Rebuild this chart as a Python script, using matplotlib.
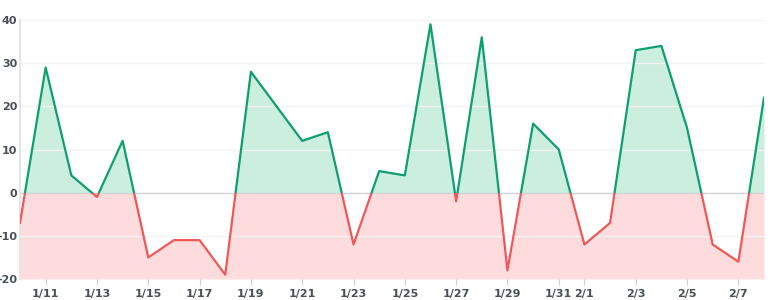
import matplotlib
matplotlib.use("Agg")
import matplotlib.pyplot as plt
from matplotlib.patches import Rectangle
import numpy as np

plt.rcParams['axes.unicode_minus'] = False

# daily values, 1/10 .. 2/8
dates = ['1/10', '1/11', '1/12', '1/13', '1/14', '1/15', '1/16', '1/17', '1/18', '1/19',
         '1/20', '1/21', '1/22', '1/23', '1/24', '1/25', '1/26', '1/27', '1/28', '1/29',
         '1/30', '1/31', '2/1', '2/2', '2/3', '2/4', '2/5', '2/6', '2/7', '2/8']
values = [-7, 29, 4, -1, 12, -15, -11, -11, -19, 28,
          20, 12, 14, -12, 5, 4, 39, -2, 36, -18,
          16, 10, -12, -7, 33, 34, 15, -12, -16, 22]
tick_labels = ['1/11', '1/13', '1/15', '1/17', '1/19', '1/21', '1/23', '1/25',
               '1/27', '1/29', '1/31', '2/1', '2/3', '2/5', '2/7']
y_ticks = [-20, -10, 0, 10, 20, 30, 40]

GREEN = '#0e9f6e'
GREEN_FILL = '#cbeedf'
RED = '#f25757'
RED_FILL = '#fedcdd'

x = np.arange(len(values))
y = np.array(values)
ymin, ymax = y_ticks[0], y_ticks[-1]

fig = plt.figure(figsize=(7.84, 3.0), dpi=100)
ax = fig.add_axes([20 / 784, 21 / 300, 744 / 784, 259 / 300])

for yt in y_ticks:
    ax.axhline(yt, color='#d4d4d4' if yt == 0 else '#f3f3f3', lw=1, zorder=1)

# split everything at zero: green above, red below
parts = [(0, ymax - 0, GREEN, GREEN_FILL), (ymin, 0 - ymin, RED, RED_FILL)]
for y0, h, lc, fc in parts:
    fill = ax.fill_between(x, y, ymin, color=fc, lw=0, zorder=0)
    line, = ax.plot(x, y, color=lc, lw=1.6, zorder=3)
    clip = Rectangle((x[0], y0), x[-1] - x[0], h, transform=ax.transData)
    fill.set_clip_path(clip)
    line.set_clip_path(clip)

ax.set_xlim(x[0], x[-1])
ax.set_ylim(ymin, ymax)
ax.set_xticks([dates.index(d) for d in tick_labels])
ax.set_xticklabels(tick_labels)
ax.set_yticks(y_ticks)

for s in ['top', 'right', 'bottom']:
    ax.spines[s].set_visible(False)
ax.spines['left'].set_color('#e2e5ea')
ax.spines['left'].set_linewidth(1.5)

ax.tick_params(axis='x', length=4, color='#d0d0d0', pad=3, labelsize=8, labelcolor='#4a4f57')
ax.tick_params(axis='y', length=0, pad=2, labelsize=8, labelcolor='#4a4f57')
for lbl in ax.get_xticklabels() + ax.get_yticklabels():
    lbl.set_fontweight('bold')

fig.savefig('out.png', dpi=100)
